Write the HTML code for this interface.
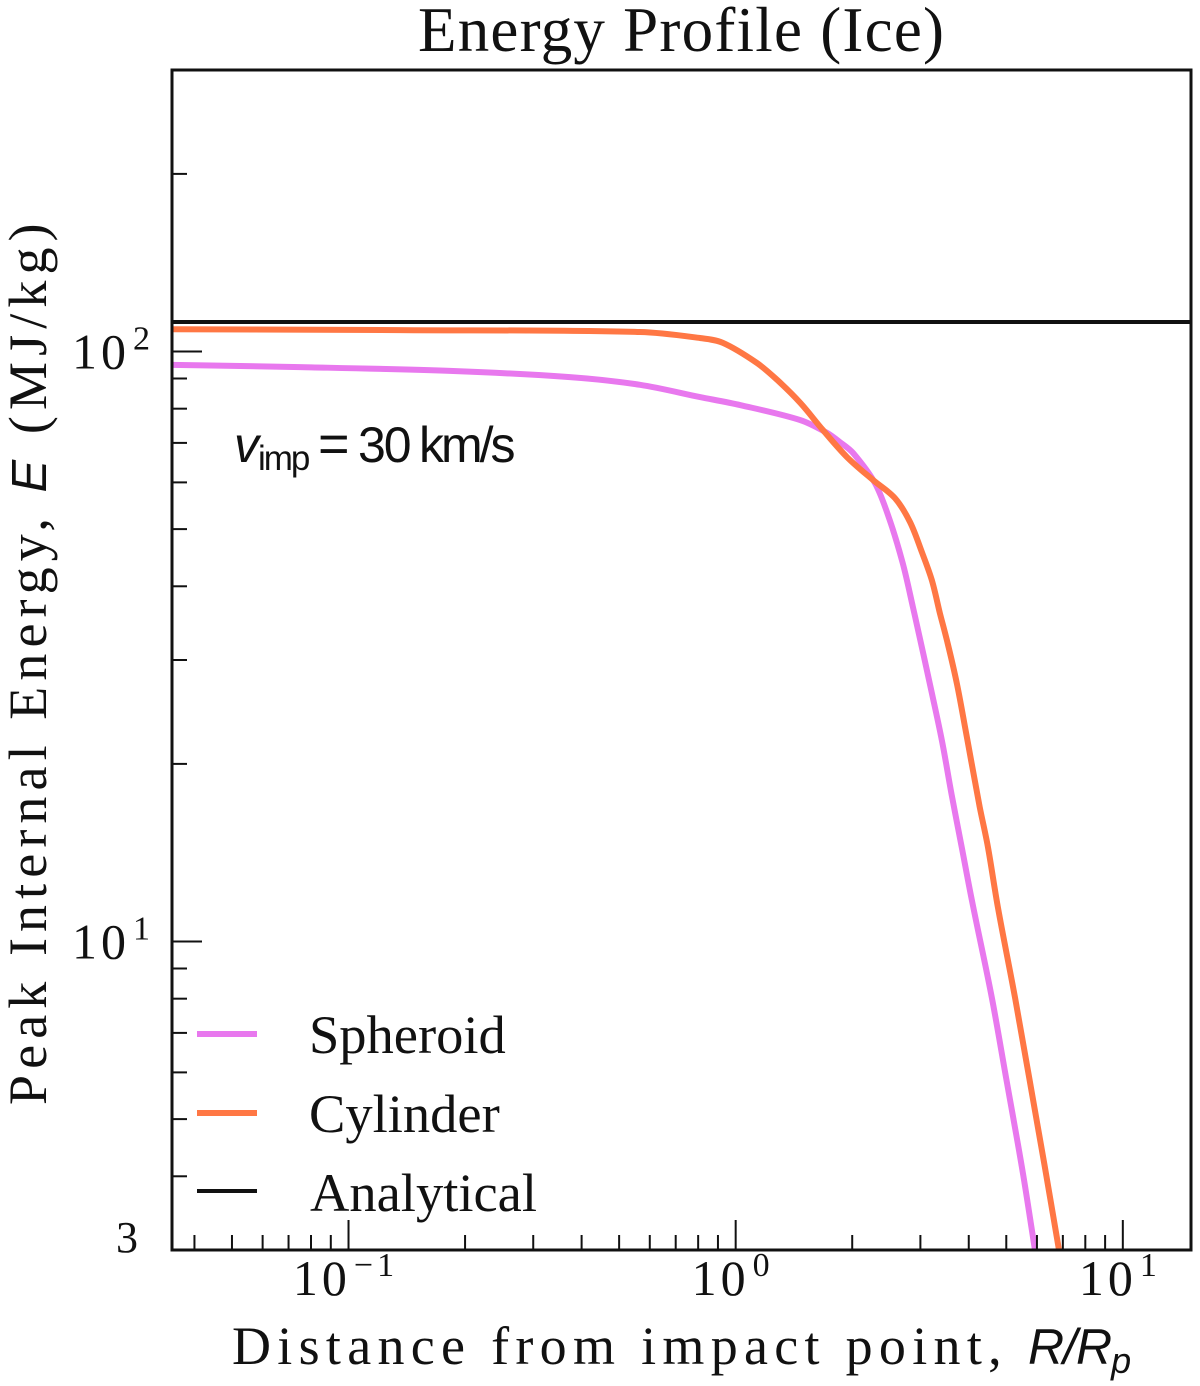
<!DOCTYPE html>
<html lang="en">
<head>
<meta charset="utf-8">
<title>Energy Profile (Ice)</title>
<style>
html,body{margin:0;padding:0;background:#fff;width:1200px;height:1386px;overflow:hidden}
svg{display:block}
text{font-family:"Liberation Serif",serif;fill:#111}
.math{font-family:"Liberation Sans",sans-serif}
</style>
</head>
<body>
<svg id="chart" xmlns="http://www.w3.org/2000/svg" width="1200" height="1386" viewBox="0 0 1200 1386">
  <text x="418" y="51" font-size="63" textLength="526" lengthAdjust="spacing">Energy Profile (Ice)</text>
  <g id="marks"></g>
  <g id="ticks"></g>
  <rect x="172" y="70" width="1019" height="1180" fill="none" stroke="#111" stroke-width="3"></rect>
  <g id="ticklabels"></g>
  <text x="232" y="1364" font-size="54" letter-spacing="6.3">Distance from impact point,</text>
  <text class="math" x="1028" y="1364" font-size="50" font-style="italic" letter-spacing="-1">R/R<tspan font-size="36" dy="9">p</tspan></text>
  <text transform="translate(46,1105) rotate(-90)" font-size="54" letter-spacing="6.1">Peak Internal Energy, <tspan class="math" font-style="italic" font-size="49">E</tspan> (MJ/kg)</text>
  <text class="math" y="462" font-size="50"><tspan x="234" font-style="italic">v</tspan><tspan x="258" font-size="35" dy="8" letter-spacing="-2">imp</tspan><tspan x="318" dy="-8" font-size="54">=</tspan><tspan x="358" letter-spacing="-2">30</tspan><tspan x="419" letter-spacing="-3">km/s</tspan></text>
  <g>
    <g>
      <line x1="197" y1="1034" x2="257" y2="1034" stroke="#e878ee" stroke-width="6"></line>
      <text x="309" y="1053" font-size="54.5">Spheroid</text>
    </g>
    <g>
      <line x1="197" y1="1113" x2="257" y2="1113" stroke="#ff7744" stroke-width="6"></line>
      <text x="309" y="1132" font-size="54.5">Cylinder</text>
    </g>
    <g>
      <line x1="197" y1="1191" x2="257" y2="1191" stroke="#111" stroke-width="4"></line>
      <text x="310" y="1211" font-size="54.5">Analytical</text>
    </g>
  </g>
</svg>
<script>
const spheroidR = [0.035,0.075,0.183,0.373,0.566,0.809,1.03,1.47,1.72,1.86,2.01,2.29,2.50,2.70,2.87,3.05,3.21,3.41,3.62,3.84,4.08,4.59,5.02,5.52,5.93];
const spheroidE = [94.9,94.1,92.7,90.5,87.8,83.7,81.1,76.5,72.8,70.2,67.3,59.8,51.8,43.8,36.9,30.8,26.4,21.9,17.6,14.4,11.7,8.02,5.76,4.05,3.0];
const cylinderR = [0.035,0.136,0.566,0.809,0.927,1.135,1.28,1.47,1.68,1.94,2.26,2.58,2.82,3.03,3.21,3.37,3.53,3.73,3.96,4.27,4.48,4.76,5.27,5.97,6.33,6.84];
const cylinderE = [109.1,108.7,107.9,105.4,103.4,95.6,89.5,81.8,73.6,66.2,60.6,56.4,51.4,45.6,41.0,36.0,32.0,27.3,22.1,16.9,14.5,11.4,8.02,5.04,4.05,3.0];
const analyticalE = [112.2];
const xLimits = [0.035,15];
const yLimits = [3,300];
const xMajorTicks = [0.1,1,10];
const xMinorTicks = [0.04,0.05,0.06,0.07,0.08,0.09,0.2,0.3,0.4,0.5,0.6,0.7,0.8,0.9,2,3,4,5,6,7,8,9];
const yMajorTicks = [10,100];
const yMinorTicks = [4,5,6,7,8,9,20,30,40,50,60,70,80,90,200];
const xTickBases = ["10","10","10"];
const xTickExponents = ["\u22121","0","1"];
const yTickBases = ["10","10"];
const yTickExponents = ["1","2"];
const yExtraLabel = ["3"];

const NS = "http://www.w3.org/2000/svg";
const plotLeft = 172, plotRight = 1191, plotTop = 70, plotBottom = 1250;
function xScale(v){
  const a = Math.log10(xLimits[0]), b = Math.log10(xLimits[1]);
  return plotLeft + (Math.log10(v) - a) / (b - a) * (plotRight - plotLeft);
}
function yScale(v){
  const a = Math.log10(yLimits[0]), b = Math.log10(yLimits[1]);
  return plotBottom - (Math.log10(v) - a) / (b - a) * (plotBottom - plotTop);
}
function mk(tag, attrs, parent){
  const el = document.createElementNS(NS, tag);
  for (const k in attrs) el.setAttribute(k, attrs[k]);
  parent.appendChild(el);
  return el;
}
const marks = document.getElementById("marks");
const ticks = document.getElementById("ticks");
const labels = document.getElementById("ticklabels");

function smoothPath(xs, ys){
  const p = xs.map((x, i) => [xScale(x), yScale(ys[i])]);
  let d = "M" + p[0][0].toFixed(1) + " " + p[0][1].toFixed(1);
  for (let i = 0; i < p.length - 1; i++){
    const p0 = p[Math.max(i - 1, 0)], p1 = p[i], p2 = p[i + 1], p3 = p[Math.min(i + 2, p.length - 1)];
    const seg = Math.hypot(p2[0] - p1[0], p2[1] - p1[1]);
    const n1 = Math.hypot(p2[0] - p0[0], p2[1] - p0[1]) || 1;
    const n2 = Math.hypot(p3[0] - p1[0], p3[1] - p1[1]) || 1;
    const c1x = p1[0] + (p2[0] - p0[0]) / n1 * seg / 3;
    const c1y = p1[1] + (p2[1] - p0[1]) / n1 * seg / 3;
    const c2x = p2[0] - (p3[0] - p1[0]) / n2 * seg / 3;
    const c2y = p2[1] - (p3[1] - p1[1]) / n2 * seg / 3;
    d += " C" + c1x.toFixed(1) + " " + c1y.toFixed(1) + " " + c2x.toFixed(1) + " " + c2y.toFixed(1) + " " + p2[0].toFixed(1) + " " + p2[1].toFixed(1);
  }
  return d;
}
const spheroidLine = mk("path", {d: smoothPath(spheroidR, spheroidE), fill: "none", stroke: "#e878ee", "stroke-width": 6, "stroke-linejoin": "round"}, marks);


const cylinderLine = mk("path", {d: smoothPath(cylinderR, cylinderE), fill: "none", stroke: "#ff7744", "stroke-width": 6, "stroke-linejoin": "round"}, marks);


const analyticalLine = mk("line", {x1: plotLeft, x2: plotRight, y1: yScale(analyticalE[0]), y2: yScale(analyticalE[0]), stroke: "#111", "stroke-width": 4}, marks);



xMajorTicks.forEach(v => {
  const t = mk("line", {x1: xScale(v), x2: xScale(v), y1: plotBottom, y2: plotBottom - 30, stroke: "#111", "stroke-width": 2}, ticks);
  
  
});
xMinorTicks.forEach(v => {
  const t = mk("line", {x1: xScale(v), x2: xScale(v), y1: plotBottom, y2: plotBottom - 15, stroke: "#111", "stroke-width": 2}, ticks);
  
  
});
yMajorTicks.forEach(v => {
  const t = mk("line", {x1: plotLeft, x2: plotLeft + 30, y1: yScale(v), y2: yScale(v), stroke: "#111", "stroke-width": 2}, ticks);
  
  
});
yMinorTicks.forEach(v => {
  const t = mk("line", {x1: plotLeft, x2: plotLeft + 15, y1: yScale(v), y2: yScale(v), stroke: "#111", "stroke-width": 2}, ticks);
  
  
});

function powerLabel(x, y, base, exp, anchor){
  const t = mk("text", {x: x, y: y, "font-size": 50, "text-anchor": anchor, "letter-spacing": 4}, labels);
  t.appendChild(document.createTextNode(base));
  const s = mk("tspan", {"font-size": 34, dy: -19, dx: 3}, t);
  s.textContent = exp;
  return t;
}
xMajorTicks.forEach((v, i) => {
  const l = powerLabel(xScale(v) - 3, 1295, xTickBases[i], xTickExponents[i], "middle");
  
  
});
yMajorTicks.forEach((v, i) => {
  const l = powerLabel(154, yScale(v) + 17, yTickBases[i], yTickExponents[i], "end");
  
  
});
const threeLabel = mk("text", {x: 138, y: yScale(3) + 2, "font-size": 44, "text-anchor": "end"}, labels);
threeLabel.textContent = yExtraLabel[0];


</script>
</body>
</html>
